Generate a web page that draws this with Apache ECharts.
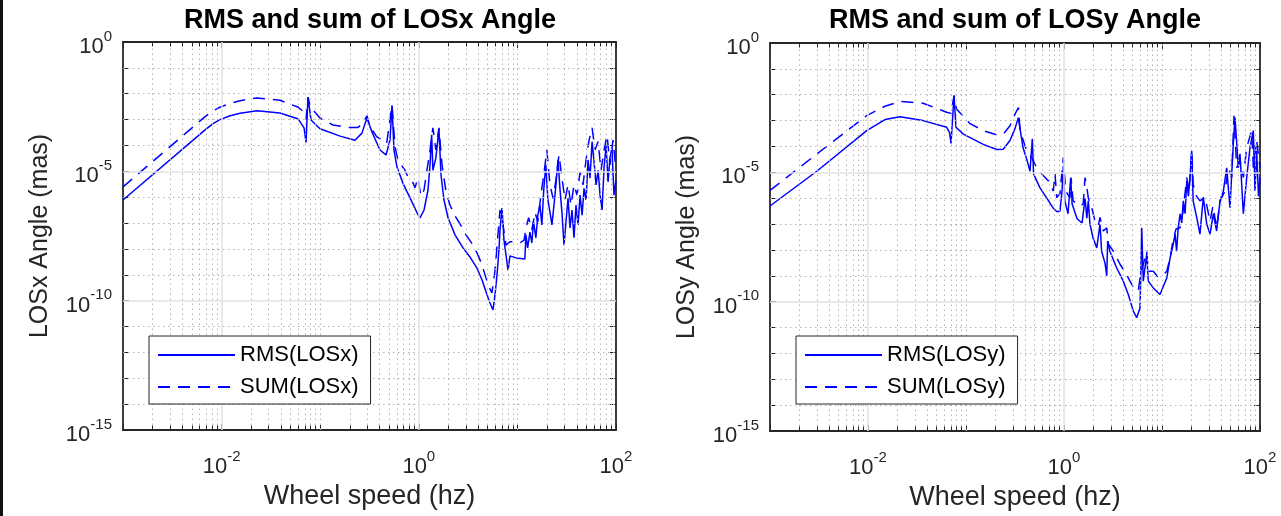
<!DOCTYPE html>
<html>
<head>
<meta charset="utf-8">
<title>RMS and sum of LOS angles</title>
<script src="https://cdn.jsdelivr.net/npm/echarts@6/dist/echarts.min.js"></script>
<style>
  html, body { margin: 0; padding: 0; background: #fff; }
  #chart { width: 1281px; height: 516px; }
</style>
</head>
<body>
<div id="chart"></div>
<script>
// [wheel speed (hz), angle (mas)]
const losxRms = [
  [0.001, 7.8e-7], [0.0068, 4.0e-4], [0.0082, 7.0e-4], [0.0096, 1.0e-3], [0.0122, 1.4e-3],
  [0.0154, 1.75e-3], [0.0229, 2.2e-3], [0.039, 1.8e-3],
  [0.06, 1.05e-3], [0.0686, 4.8e-4], [0.0718, 1.3e-4], [0.0752, 7.4e-3], [0.0807, 9.7e-4],
  [0.0995, 4.4e-4], [0.159, 2.3e-4], [0.225, 1.6e-4], [0.265, 3.0e-4], [0.298, 1.15e-3],
  [0.335, 3.3e-4], [0.404, 6.7e-5], [0.465, 4.3e-5], [0.51, 1.6e-4], [0.535, 3.6e-3],
  [0.56, 6.7e-5], [0.6, 1.5e-5], [0.69, 3.5e-6], [0.76, 1.6e-6], [0.81, 1.0e-6],
  [0.89, 4.6e-7], [0.96, 2.5e-7], [1.03, 1.6e-7], [1.13, 3.2e-7], [1.24, 1.9e-6],
  [1.30, 1.8e-5], [1.35, 2.6e-4], [1.39, 1.1e-5], [1.49, 3.3e-5], [1.60, 4.4e-4],
  [1.68, 7.2e-6], [1.80, 7.8e-7], [1.98, 1.6e-7], [2.33, 3.5e-8], [2.81, 1.1e-8],
  [3.30, 4.9e-9], [3.89, 1.8e-9], [4.38, 6.3e-10], [4.92, 1.7e-10], [5.27, 8.1e-11],
  [5.66, 4.4e-11], [5.93, 1.7e-10], [6.21, 9.8e-10], [6.5, 9.1e-9], [6.66, 5.4e-8],
  [6.98, 3.8e-7], [7.31, 2.2e-8], [7.66, 5.9e-9], [8.03, 1.5e-9], [8.41, 5.4e-9],
  [9.68, 4.5e-9], [11.9, 4.1e-9], [12.2, 3.5e-8], [12.7, 1.1e-8], [13.4, 4.5e-8],
  [14.0, 1.7e-8], [14.6, 1.1e-7], [15.4, 2.7e-8], [16.1, 2.0e-7], [16.9, 5.0e-7],
  [17.7, 8.5e-8], [18.5, 1.9e-6], [19.4, 1.8e-5], [20.4, 7.8e-7], [21.4, 2.6e-7],
  [22.4, 8.5e-8], [23.5, 5.0e-7], [24.6, 3.0e-6], [25.8, 2.8e-5], [27.0, 2.2e-6],
  [28.3, 2.6e-7], [29.7, 1.4e-8], [31.1, 1.1e-7], [32.6, 9.0e-7], [34.2, 6.5e-8],
  [35.8, 3.2e-7], [37.5, 2.7e-8], [39.3, 5.0e-7], [41.2, 8.5e-8], [43.2, 1.2e-6],
  [45.3, 2.0e-7], [47.4, 2.2e-6], [49.7, 7.8e-7], [52.1, 2.8e-5], [54.5, 5.5e-6],
  [57.2, 1.4e-4], [59.9, 2.3e-5], [62.8, 3.0e-6], [65.8, 1.1e-5], [68.9, 1.2e-6],
  [72.2, 3.2e-7], [75.7, 1.4e-5], [79.3, 1.0e-4], [83.1, 3.9e-6], [86.9, 3.3e-5],
  [91.0, 8.0e-5], [95.4, 1.2e-6], [100, 4.6e-6]
];
const losxSum = [
  [0.001, 2.5e-6], [0.0068, 1.3e-3], [0.0082, 2.2e-3], [0.0096, 3.0e-3], [0.0122, 4.2e-3],
  [0.0154, 5.4e-3], [0.0229, 6.9e-3], [0.039, 5.6e-3],
  [0.06, 3.0e-3], [0.0686, 1.9e-3], [0.0718, 1.0e-3], [0.0752, 7.4e-3], [0.079, 3.2e-3],
  [0.0995, 1.15e-3], [0.135, 6.2e-4], [0.186, 5.0e-4], [0.242, 5.0e-4], [0.272, 7.4e-4],
  [0.298, 1.4e-3], [0.32, 5.3e-4], [0.374, 2.2e-4], [0.472, 1.2e-4], [0.535, 3.6e-3],
  [0.574, 8.7e-5], [0.615, 2.8e-5], [0.66, 1.8e-5], [0.724, 1.1e-5], [0.776, 6.0e-6],
  [0.851, 4.6e-6], [0.914, 2.3e-6], [0.98, 5.5e-6], [1.05, 1.1e-6], [1.13, 1.9e-6],
  [1.21, 1.1e-5], [1.30, 6.7e-5], [1.39, 4.8e-4], [1.49, 6.7e-5], [1.60, 4.8e-4],
  [1.72, 1.8e-5], [1.89, 1.6e-6], [2.07, 5.0e-7], [2.33, 1.9e-7], [2.62, 9.2e-8],
  [3.01, 3.5e-8], [3.47, 1.6e-8], [3.98, 5.9e-9], [4.38, 2.4e-9], [4.80, 7.6e-10],
  [5.15, 3.4e-10], [5.52, 2.0e-10], [5.93, 1.5e-9], [6.35, 3.5e-8], [6.66, 3.2e-7],
  [7.15, 8.5e-8], [7.66, 1.4e-8], [8.41, 1.9e-8], [9.46, 1.9e-8], [10.6, 1.7e-8],
  [11.7, 2.2e-8], [12.2, 6.5e-8], [13.0, 1.6e-7], [14.0, 5.4e-8], [15.1, 2.6e-7],
  [16.1, 1.1e-7], [17.3, 1.2e-6], [18.5, 7.2e-6], [19.9, 6.7e-5], [21.4, 3.0e-6],
  [23.0, 9.0e-7], [24.6, 4.6e-6], [26.4, 4.3e-5], [28.3, 5.5e-6], [30.4, 7.8e-7],
  [32.6, 3.0e-6], [35.0, 5.0e-7], [37.5, 3.0e-6], [40.2, 1.2e-6], [43.2, 9.5e-6],
  [46.3, 3.0e-6], [49.7, 2.8e-5], [53.3, 1.6e-4], [57.2, 4.8e-4], [61.2, 6.7e-5],
  [65.8, 1.4e-4], [70.5, 1.1e-5], [75.7, 6.7e-5], [81.1, 2.5e-4], [86.9, 1.8e-5],
  [93.2, 1.6e-4], [100, 1.1e-5]
];
const losyRms = [
  [0.001, 5.0e-7], [0.003, 1.1e-5], [0.0097, 4.1e-4], [0.0149, 1.1e-3], [0.0212, 1.4e-3],
  [0.0364, 1.0e-3], [0.0635, 5.5e-4], [0.068, 3.4e-4], [0.0703, 1.3e-4], [0.0755, 9.3e-3],
  [0.079, 5.5e-4], [0.094, 3.0e-4], [0.150, 1.2e-4], [0.206, 7.6e-5], [0.24, 7.8e-5],
  [0.281, 1.7e-4], [0.316, 4.9e-4], [0.342, 1.3e-3], [0.356, 4.9e-4], [0.382, 8.9e-5],
  [0.416, 3.3e-5], [0.45, 1.1e-5], [0.475, 2.0e-4], [0.489, 8.7e-6], [0.569, 2.5e-6],
  [0.667, 1.0e-6], [0.773, 4.2e-7], [0.849, 3.0e-7], [0.91, 3.2e-7], [0.955, 1.9e-6],
  [0.984, 1.8e-5], [1.02, 7.9e-7], [1.10, 2.5e-7], [1.17, 6.2e-6], [1.21, 6.0e-7],
  [1.36, 1.6e-7], [1.53, 1.1e-7], [1.64, 1.0e-6], [1.71, 1.7e-7], [1.77, 7.9e-7],
  [1.84, 1.0e-7], [1.98, 2.9e-8], [2.16, 1.2e-8], [2.33, 1.0e-7], [2.42, 8.9e-9],
  [2.62, 3.1e-9], [2.73, 1.0e-9], [2.79, 2.2e-8], [2.94, 8.9e-9], [3.45, 2.0e-9],
  [4.03, 6.2e-10], [4.53, 1.9e-10], [5.09, 4.3e-11], [5.52, 2.4e-11], [5.97, 5.8e-11],
  [6.21, 7.2e-8], [6.44, 6.2e-10], [6.98, 6.9e-9], [7.24, 6.2e-10], [8.15, 3.4e-10],
  [9.55, 1.9e-10], [11.2, 8.4e-10], [12.1, 5.0e-9], [12.9, 1.4e-8], [13.6, 4.1e-8],
  [14.1, 8.9e-9], [14.6, 6.5e-8], [15.3, 2.5e-7], [15.9, 1.1e-7], [16.5, 7.9e-7],
  [17.2, 2.5e-7], [17.9, 4.7e-6], [18.6, 1.2e-6], [19.3, 6.3e-6], [20.1, 6.8e-5],
  [20.8, 7.9e-7], [22.6, 1.8e-7], [24.4, 4.1e-8], [26.4, 1.1e-6], [28.6, 1.0e-7],
  [30.9, 4.1e-8], [33.4, 2.5e-7], [36.1, 5.4e-8], [39.1, 7.9e-7], [42.3, 1.9e-6],
  [45.7, 1.5e-5], [49.4, 4.3e-7], [53.4, 1.3e-4], [55.6, 1.3e-3], [60.1, 1.5e-5],
  [62.5, 5.2e-5], [67.6, 2.5e-7], [73.2, 6.3e-6], [79.1, 9.2e-5], [85.5, 4.1e-4],
  [88.9, 1.9e-6], [92.5, 6.8e-5], [96.5, 1.2e-6], [100, 6.3e-6]
];
const losySum = [
  [0.001, 2.0e-6], [0.003, 5.1e-5], [0.0097, 1.55e-3], [0.0149, 3.6e-3], [0.0212, 5.5e-3],
  [0.0364, 4.7e-3], [0.0635, 2.1e-3], [0.0703, 1.9e-3], [0.0755, 9.3e-3], [0.080, 2.8e-3],
  [0.11, 7.6e-4], [0.150, 4.1e-4], [0.206, 2.8e-4], [0.24, 3.0e-4], [0.281, 6.3e-4],
  [0.304, 1.3e-3], [0.329, 2.4e-3], [0.343, 3.2e-3], [0.356, 4.1e-4], [0.416, 6.8e-5],
  [0.468, 3.7e-5], [0.526, 1.5e-5], [0.592, 8.7e-6], [0.692, 4.7e-6], [0.778, 1.9e-6],
  [0.81, 8.7e-6], [0.843, 1.05e-6], [0.91, 1.5e-6], [0.984, 3.7e-5], [1.04, 1.9e-6],
  [1.15, 1.05e-6], [1.18, 6.2e-6], [1.24, 7.9e-7], [1.46, 5.0e-7], [1.57, 6.0e-7],
  [1.64, 6.3e-6], [1.71, 2.6e-6], [1.77, 1.05e-6], [1.92, 4.3e-7], [2.07, 1.3e-7],
  [2.24, 8.5e-8], [2.33, 1.8e-7], [2.52, 5.4e-8], [2.73, 7.2e-8], [2.83, 1.7e-8],
  [3.19, 8.9e-9], [3.73, 2.8e-9], [4.36, 1.1e-9], [4.71, 6.2e-10], [5.18, 3.3e-10],
  [5.73, 2.6e-10], [6.1, 1.5e-9], [6.44, 2.8e-9], [6.98, 8.9e-9], [7.24, 1.5e-9],
  [8.15, 1.5e-9], [9.1, 8.9e-10], [10.3, 1.1e-9], [11.2, 1.5e-9], [12.1, 5.0e-9],
  [12.9, 2.2e-8], [13.9, 6.5e-8], [15.3, 7.2e-8], [16.4, 3.2e-7], [17.9, 6.3e-6],
  [18.9, 1.9e-6], [20.1, 6.8e-5], [20.8, 3.5e-6], [22.5, 1.2e-6], [24.4, 7.9e-7],
  [27.5, 1.1e-6], [30.9, 1.3e-7], [33.1, 5.0e-7], [36.1, 7.2e-8], [39.1, 7.9e-7],
  [44.0, 1.9e-6], [47.5, 1.5e-5], [51.4, 6.3e-6], [54.3, 1.55e-3], [57.8, 1.5e-5],
  [62.5, 2.8e-5], [67.6, 6.3e-6], [73.2, 9.2e-5], [82.2, 4.1e-4], [85.5, 1.5e-5],
  [92.5, 1.7e-4], [100, 1.5e-5]
];

// decades that carry a label / a solid grid line
const xLabelExps = [-2, 0, 2];
const yLabelExps = [0, -5, -10, -15];
const xMajorGrid = [1e-2, 1];
const yMajorGrid = [1e-5, 1e-10];

const ink = '#262626';
const font = '"Liberation Sans", Arial, Helvetica, sans-serif';
const blue = '#0000ff';

const chart = echarts.init(document.getElementById('chart'));

function powLabel(shown) {
  return function (value) {
    const e = Math.round(Math.log10(value));
    return shown.indexOf(e) < 0 ? '' : '{b|10}{s|' + e + '}';
  };
}
const powRich = {
  b: { fontSize: 22, fontFamily: font, color: ink, padding: [10, 0, 0, 0] },
  s: { fontSize: 15, fontFamily: font, color: ink, padding: [3, 0, 14, 0] }
};

// dotted minor grid at 2..9 of every decade, solid at labelled decades
const xMinorGrid = [];
for (let d = -3; d <= 1; d++) {
  for (let m = 1; m <= 9; m++) {
    const v = m * Math.pow(10, d);
    if (m === 1 && (d === -3 || xMajorGrid.indexOf(v) >= 0)) continue;
    xMinorGrid.push(v);
  }
}
const yMinorGrid = [];
for (let d = -14; d <= -1; d++) {
  if (d % 5 !== 0) yMinorGrid.push(Math.pow(10, d));
}

const minorStyle = { color: '#b4b4b4', width: 1, type: [1.5, 3.5] };
const majorStyle = { color: '#e2e2e2', width: 1.5, type: 'solid' };
const tickStyle = { color: ink, width: 1, type: 'solid' };

function gridLines(idx) {
  const lines = [];
  xMinorGrid.forEach(v => lines.push({ xAxis: v, lineStyle: minorStyle }));
  yMinorGrid.forEach(v => lines.push({ yAxis: v, lineStyle: minorStyle }));
  xMajorGrid.forEach(v => lines.push({ xAxis: v, lineStyle: majorStyle }));
  yMajorGrid.forEach(v => lines.push({ yAxis: v, lineStyle: majorStyle }));
  // short minor ticks along the bottom and top edges
  xMinorGrid.forEach(v => {
    if (v === 0.1 || v === 10) return;
    lines.push([{ coord: [v, 1e-15], lineStyle: tickStyle }, { coord: [v, 1.5e-15] }]);
    lines.push([{ coord: [v, 1], lineStyle: tickStyle }, { coord: [v, 0.67] }]);
  });
  return {
    type: 'line',
    xAxisIndex: idx * 2,
    yAxisIndex: idx * 2,
    data: [],
    silent: true,
    z: 1,
    markLine: {
      symbol: 'none',
      silent: true,
      precision: 20,
      label: { show: false },
      data: lines
    }
  };
}

function xAxes(idx, name) {
  const base = {
    type: 'log', logBase: 10, gridIndex: idx, min: 1e-3, max: 1e2, interval: 1,
    axisLine: { show: true, lineStyle: { color: ink, width: 1.8 } },
    axisTick: { show: true, inside: true, length: 6, lineStyle: { color: ink, width: 1 } },
    splitLine: { show: false }
  };
  return [
    Object.assign({}, base, {
      position: 'bottom',
      axisLabel: { formatter: powLabel(xLabelExps), rich: powRich, margin: 16 },
      name: name, nameLocation: 'middle', nameGap: 53,
      nameTextStyle: { fontSize: 27, fontFamily: font, color: ink }
    }),
    Object.assign({}, base, { position: 'top', axisLabel: { show: false } })
  ];
}

function yAxes(idx, name) {
  const base = {
    type: 'log', logBase: 10, gridIndex: idx, min: 1e-15, max: 1, interval: 1,
    axisLine: { show: true, lineStyle: { color: ink, width: 1.8 } },
    axisTick: { show: true, inside: true, length: 6, lineStyle: { color: ink, width: 1 } },
    splitLine: { show: false }
  };
  return [
    Object.assign({}, base, {
      position: 'left',
      axisLabel: { formatter: powLabel(yLabelExps), rich: powRich, margin: 11 },
      name: name, nameLocation: 'middle', nameGap: 70, nameRotate: 90,
      nameTextStyle: { fontSize: 25, fontFamily: font, color: ink }
    }),
    Object.assign({}, base, { position: 'right', axisLabel: { show: false } })
  ];
}

function curve(name, data, idx, dashed) {
  return {
    name: name,
    type: 'line',
    xAxisIndex: idx * 2,
    yAxisIndex: idx * 2,
    data: data,
    symbol: 'none',
    z: 3,
    lineStyle: { color: blue, width: 1.5, type: dashed ? [12, 8] : 'solid' },
    itemStyle: { color: blue }
  };
}

function legendBox(left, names) {
  return {
    data: names,
    orient: 'vertical',
    left: left,
    top: 336,
    itemWidth: 77,
    itemHeight: 14,
    itemGap: 10,
    padding: [8, 12, 6, 8],
    borderColor: ink,
    borderWidth: 1,
    backgroundColor: '#fff',
    selectedMode: false,
    z: 10,
    itemStyle: { color: 'rgba(0,0,0,0)', borderWidth: 0 },
    textStyle: { fontSize: 22, fontFamily: font, color: '#000' }
  };
}

function titleText(x, text) {
  return {
    type: 'text', x: x, y: 21,
    style: {
      text: text, fill: '#000', fontSize: 27, fontWeight: 'bold', fontFamily: font,
      align: 'center', verticalAlign: 'middle'
    }
  };
}

chart.setOption({
  animation: false,
  backgroundColor: '#fff',
  grid: [
    { left: 123, top: 42, width: 493, height: 388 },
    { left: 770, top: 43, width: 490, height: 388 }
  ],
  xAxis: xAxes(0, 'Wheel speed (hz)').concat(xAxes(1, 'Wheel speed (hz)')),
  yAxis: yAxes(0, 'LOSx Angle (mas)').concat(yAxes(1, 'LOSy Angle (mas)')),
  legend: [
    legendBox(149, ['RMS(LOSx)', 'SUM(LOSx)']),
    legendBox(796, ['RMS(LOSy)', 'SUM(LOSy)'])
  ],
  graphic: [
    titleText(370, 'RMS and sum of LOSx Angle'),
    titleText(1015, 'RMS and sum of LOSy Angle'),
    { type: 'rect', shape: { x: 0, y: 0, width: 3, height: 516 }, style: { fill: '#111' } }
  ],
  series: [
    gridLines(0),
    gridLines(1),
    curve('RMS(LOSx)', losxRms, 0, false),
    curve('SUM(LOSx)', losxSum, 0, true),
    curve('RMS(LOSy)', losyRms, 1, false),
    curve('SUM(LOSy)', losySum, 1, true)
  ]
});
</script>
</body>
</html>
